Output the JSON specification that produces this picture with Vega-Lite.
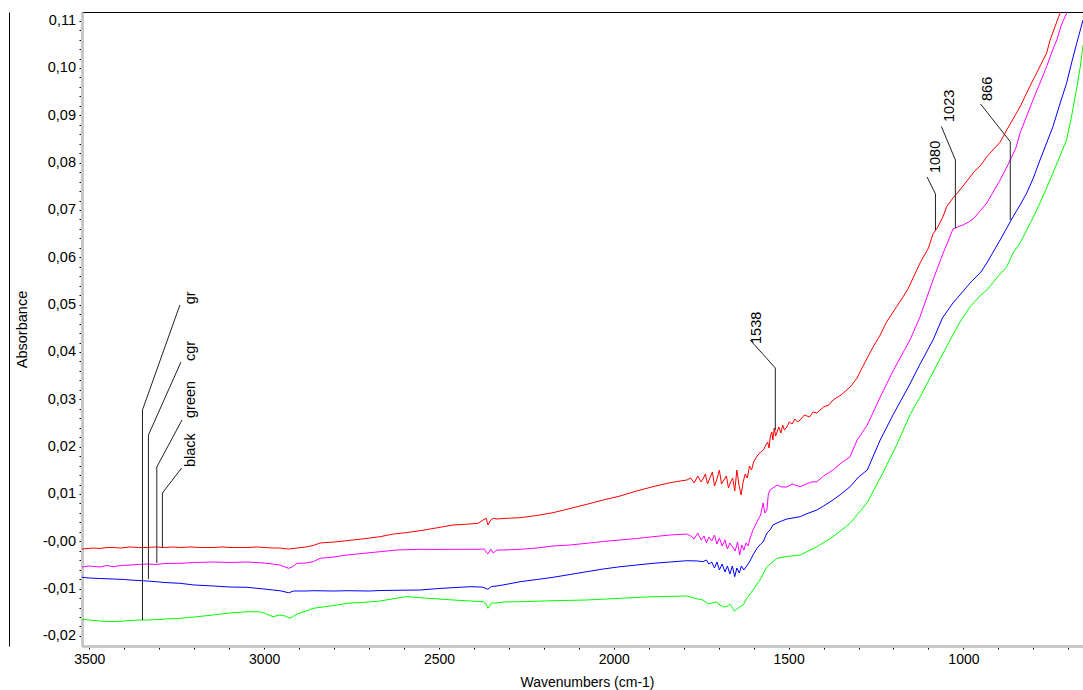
{
"$schema":"https://vega.github.io/schema/vega-lite/v6.json",
"width":1001,"height":634,
"autosize":{"type":"none"},
"padding":{"left":82,"top":12,"right":0,"bottom":44},
"background":"white",
"config":{"view":{"stroke":"black","strokeWidth":1},"axis":{"labelFont":"Liberation Sans","titleFont":"Liberation Sans","labelColor":"black","titleColor":"black","titleFontWeight":"normal","grid":false},"text":{"font":"Liberation Sans"}},
"datasets":{
"spec":[
{"s":"black","w":3521,"a":-0.00163},{"s":"black","w":3490,"a":-0.00142},{"s":"black","w":3470,"a":-0.00152},{"s":"black","w":3450,"a":-0.00131},{"s":"black","w":3432,"a":-0.00131},{"s":"black","w":3410,"a":-0.00142},{"s":"black","w":3384,"a":-0.0012},{"s":"black","w":3360,"a":-0.00131},{"s":"black","w":3335,"a":-0.00131},{"s":"black","w":3310,"a":-0.0012},{"s":"black","w":3284,"a":-0.00131},{"s":"black","w":3260,"a":-0.0012},{"s":"black","w":3241,"a":-0.00131},{"s":"black","w":3210,"a":-0.0012},{"s":"black","w":3184,"a":-0.00131},{"s":"black","w":3146,"a":-0.00131},{"s":"black","w":3120,"a":-0.0012},{"s":"black","w":3098,"a":-0.00131},{"s":"black","w":3049,"a":-0.00131},{"s":"black","w":3020,"a":-0.0012},{"s":"black","w":2998,"a":-0.00131},{"s":"black","w":2975,"a":-0.00142},{"s":"black","w":2955,"a":-0.00142},{"s":"black","w":2930,"a":-0.00163},{"s":"black","w":2906,"a":-0.00142},{"s":"black","w":2880,"a":-0.0012},{"s":"black","w":2860,"a":-0.00089},{"s":"black","w":2840,"a":-0.00036},{"s":"black","w":2800,"a":-0.00015},{"s":"black","w":2763,"a":0.00013},{"s":"black","w":2720,"a":0.00049},{"s":"black","w":2669,"a":0.00097},{"s":"black","w":2630,"a":0.00154},{"s":"black","w":2591,"a":0.00186},{"s":"black","w":2554,"a":0.00224},{"s":"black","w":2500,"a":0.00292},{"s":"black","w":2460,"a":0.00344},{"s":"black","w":2411,"a":0.00366},{"s":"black","w":2388,"a":0.0038},{"s":"black","w":2374,"a":0.0045},{"s":"black","w":2365,"a":0.00486},{"s":"black","w":2360,"a":0.00344},{"s":"black","w":2352,"a":0.0045},{"s":"black","w":2345,"a":0.00486},{"s":"black","w":2334,"a":0.00471},{"s":"black","w":2317,"a":0.00482},{"s":"black","w":2268,"a":0.00499},{"s":"black","w":2220,"a":0.00545},{"s":"black","w":2174,"a":0.00604},{"s":"black","w":2125,"a":0.00693},{"s":"black","w":2077,"a":0.00782},{"s":"black","w":2030,"a":0.00873},{"s":"black","w":1982,"a":0.00957},{"s":"black","w":1935,"a":0.01063},{"s":"black","w":1888,"a":0.01154},{"s":"black","w":1839,"a":0.01238},{"s":"black","w":1810,"a":0.01274},{"s":"black","w":1791,"a":0.01295},{"s":"black","w":1780,"a":0.01337},{"s":"black","w":1770,"a":0.01232},{"s":"black","w":1760,"a":0.0138},{"s":"black","w":1750,"a":0.01253},{"s":"black","w":1745,"a":0.01316},{"s":"black","w":1738,"a":0.01422},{"s":"black","w":1732,"a":0.01211},{"s":"black","w":1725,"a":0.01337},{"s":"black","w":1718,"a":0.01464},{"s":"black","w":1712,"a":0.01168},{"s":"black","w":1705,"a":0.01316},{"s":"black","w":1698,"a":0.01506},{"s":"black","w":1692,"a":0.01211},{"s":"black","w":1685,"a":0.01295},{"s":"black","w":1678,"a":0.0138},{"s":"black","w":1672,"a":0.01126},{"s":"black","w":1666,"a":0.01253},{"s":"black","w":1660,"a":0.01337},{"s":"black","w":1654,"a":0.01063},{"s":"black","w":1648,"a":0.01506},{"s":"black","w":1642,"a":0.0119},{"s":"black","w":1636,"a":0.00978},{"s":"black","w":1630,"a":0.01253},{"s":"black","w":1624,"a":0.01422},{"s":"black","w":1618,"a":0.01337},{"s":"black","w":1612,"a":0.01591},{"s":"black","w":1606,"a":0.01506},{"s":"black","w":1600,"a":0.01676},{"s":"black","w":1590,"a":0.01802},{"s":"black","w":1580,"a":0.01887},{"s":"black","w":1572,"a":0.01929},{"s":"black","w":1565,"a":0.02035},{"s":"black","w":1560,"a":0.02098},{"s":"black","w":1556,"a":0.01971},{"s":"black","w":1552,"a":0.02225},{"s":"black","w":1548,"a":0.02309},{"s":"black","w":1545,"a":0.0214},{"s":"black","w":1541,"a":0.02394},{"s":"black","w":1537,"a":0.02225},{"s":"black","w":1533,"a":0.02309},{"s":"black","w":1528,"a":0.02415},{"s":"black","w":1522,"a":0.02288},{"s":"black","w":1517,"a":0.02457},{"s":"black","w":1512,"a":0.02352},{"s":"black","w":1505,"a":0.02415},{"s":"black","w":1498,"a":0.02521},{"s":"black","w":1490,"a":0.02478},{"s":"black","w":1482,"a":0.02584},{"s":"black","w":1475,"a":0.02521},{"s":"black","w":1467,"a":0.02563},{"s":"black","w":1455,"a":0.02669},{"s":"black","w":1440,"a":0.02626},{"s":"black","w":1430,"a":0.02732},{"s":"black","w":1419,"a":0.02711},{"s":"black","w":1400,"a":0.02838},{"s":"black","w":1385,"a":0.0288},{"s":"black","w":1373,"a":0.02985},{"s":"black","w":1350,"a":0.03091},{"s":"black","w":1324,"a":0.0326},{"s":"black","w":1304,"a":0.0345},{"s":"black","w":1290,"a":0.03662},{"s":"black","w":1275,"a":0.03873},{"s":"black","w":1260,"a":0.04084},{"s":"black","w":1238,"a":0.04359},{"s":"black","w":1220,"a":0.04633},{"s":"black","w":1191,"a":0.04957},{"s":"black","w":1160,"a":0.0531},{"s":"black","w":1124,"a":0.0588},{"s":"black","w":1100,"a":0.06197},{"s":"black","w":1087,"a":0.06493},{"s":"black","w":1075,"a":0.06619},{"s":"black","w":1060,"a":0.06831},{"s":"black","w":1048,"a":0.07069},{"s":"black","w":1030,"a":0.07253},{"s":"black","w":1010,"a":0.07422},{"s":"black","w":970,"a":0.07803},{"s":"black","w":950,"a":0.07951},{"s":"black","w":933,"a":0.08126},{"s":"black","w":895,"a":0.08436},{"s":"black","w":876,"a":0.0869},{"s":"black","w":838,"a":0.09182},{"s":"black","w":801,"a":0.09746},{"s":"black","w":791,"a":0.09888},{"s":"black","w":762,"a":0.10317},{"s":"black","w":752,"a":0.10592},{"s":"black","w":724,"a":0.11156},{"s":"black","w":705,"a":0.11648},{"s":"black","w":680,"a":0.12282},{"s":"black","w":658,"a":0.1281},
{"s":"green","w":3521,"a":-0.00543},{"s":"green","w":3500,"a":-0.00522},{"s":"green","w":3470,"a":-0.00543},{"s":"green","w":3450,"a":-0.00511},{"s":"green","w":3432,"a":-0.00537},{"s":"green","w":3410,"a":-0.00511},{"s":"green","w":3384,"a":-0.00501},{"s":"green","w":3360,"a":-0.0049},{"s":"green","w":3335,"a":-0.0048},{"s":"green","w":3310,"a":-0.0049},{"s":"green","w":3284,"a":-0.00469},{"s":"green","w":3241,"a":-0.00465},{"s":"green","w":3200,"a":-0.00448},{"s":"green","w":3146,"a":-0.00437},{"s":"green","w":3098,"a":-0.00448},{"s":"green","w":3049,"a":-0.00437},{"s":"green","w":3000,"a":-0.00459},{"s":"green","w":2975,"a":-0.0048},{"s":"green","w":2955,"a":-0.00501},{"s":"green","w":2930,"a":-0.00571},{"s":"green","w":2920,"a":-0.00543},{"s":"green","w":2906,"a":-0.00465},{"s":"green","w":2880,"a":-0.00459},{"s":"green","w":2860,"a":-0.00431},{"s":"green","w":2840,"a":-0.00359},{"s":"green","w":2800,"a":-0.00332},{"s":"green","w":2763,"a":-0.0029},{"s":"green","w":2720,"a":-0.00258},{"s":"green","w":2669,"a":-0.0022},{"s":"green","w":2620,"a":-0.00184},{"s":"green","w":2554,"a":-0.00169},{"s":"green","w":2500,"a":-0.00173},{"s":"green","w":2460,"a":-0.00169},{"s":"green","w":2388,"a":-0.00169},{"s":"green","w":2370,"a":-0.00163},{"s":"green","w":2365,"a":-0.00226},{"s":"green","w":2360,"a":-0.00268},{"s":"green","w":2352,"a":-0.00163},{"s":"green","w":2345,"a":-0.00247},{"s":"green","w":2334,"a":-0.00184},{"s":"green","w":2317,"a":-0.00184},{"s":"green","w":2268,"a":-0.00169},{"s":"green","w":2220,"a":-0.00142},{"s":"green","w":2174,"a":-0.00099},{"s":"green","w":2125,"a":-0.00078},{"s":"green","w":2077,"a":-0.00042},{"s":"green","w":2030,"a":-0.00004},{"s":"green","w":1982,"a":0.00028},{"s":"green","w":1935,"a":0.00059},{"s":"green","w":1888,"a":0.00097},{"s":"green","w":1839,"a":0.00133},{"s":"green","w":1791,"a":0.00154},{"s":"green","w":1780,"a":0.00112},{"s":"green","w":1770,"a":0.00049},{"s":"green","w":1760,"a":0.00175},{"s":"green","w":1750,"a":0.00028},{"s":"green","w":1742,"a":0.00112},{"s":"green","w":1735,"a":-0.00036},{"s":"green","w":1728,"a":0.00091},{"s":"green","w":1720,"a":0.00006},{"s":"green","w":1712,"a":0.00133},{"s":"green","w":1705,"a":-0.00057},{"s":"green","w":1698,"a":0.0007},{"s":"green","w":1690,"a":-0.00099},{"s":"green","w":1682,"a":0.00028},{"s":"green","w":1675,"a":-0.00163},{"s":"green","w":1668,"a":-0.00036},{"s":"green","w":1660,"a":-0.0012},{"s":"green","w":1653,"a":-0.00205},{"s":"green","w":1646,"a":-0.00015},{"s":"green","w":1640,"a":-0.0029},{"s":"green","w":1634,"a":-0.00078},{"s":"green","w":1628,"a":-0.00184},{"s":"green","w":1622,"a":-0.00036},{"s":"green","w":1616,"a":-0.00099},{"s":"green","w":1610,"a":0.0007},{"s":"green","w":1602,"a":0.00239},{"s":"green","w":1595,"a":0.00344},{"s":"green","w":1588,"a":0.0045},{"s":"green","w":1580,"a":0.00556},{"s":"green","w":1573,"a":0.00809},{"s":"green","w":1568,"a":0.00598},{"s":"green","w":1562,"a":0.00661},{"s":"green","w":1558,"a":0.00999},{"s":"green","w":1553,"a":0.01084},{"s":"green","w":1545,"a":0.01126},{"s":"green","w":1533,"a":0.0119},{"s":"green","w":1520,"a":0.01147},{"s":"green","w":1505,"a":0.01147},{"s":"green","w":1490,"a":0.01211},{"s":"green","w":1467,"a":0.01154},{"s":"green","w":1450,"a":0.01211},{"s":"green","w":1435,"a":0.01253},{"s":"green","w":1419,"a":0.01259},{"s":"green","w":1400,"a":0.0138},{"s":"green","w":1373,"a":0.01506},{"s":"green","w":1350,"a":0.01654},{"s":"green","w":1324,"a":0.01787},{"s":"green","w":1304,"a":0.0214},{"s":"green","w":1275,"a":0.02457},{"s":"green","w":1238,"a":0.03049},{"s":"green","w":1200,"a":0.03619},{"s":"green","w":1153,"a":0.04253},{"s":"green","w":1124,"a":0.04745},{"s":"green","w":1087,"a":0.05521},{"s":"green","w":1058,"a":0.06091},{"s":"green","w":1040,"a":0.06408},{"s":"green","w":1030,"a":0.06598},{"s":"green","w":1010,"a":0.06662},{"s":"green","w":1001,"a":0.06683},{"s":"green","w":985,"a":0.06746},{"s":"green","w":972,"a":0.0681},{"s":"green","w":955,"a":0.06957},{"s":"green","w":933,"a":0.07148},{"s":"green","w":915,"a":0.0738},{"s":"green","w":895,"a":0.07634},{"s":"green","w":876,"a":0.07908},{"s":"green","w":866,"a":0.08056},{"s":"green","w":850,"a":0.0831},{"s":"green","w":838,"a":0.08627},{"s":"green","w":820,"a":0.08965},{"s":"green","w":801,"a":0.09324},{"s":"green","w":780,"a":0.09704},{"s":"green","w":762,"a":0.10027},{"s":"green","w":745,"a":0.1038},{"s":"green","w":733,"a":0.10592},{"s":"green","w":720,"a":0.10908},{"s":"green","w":705,"a":0.11156},{"s":"green","w":690,"a":0.11542},{"s":"green","w":675,"a":0.11965},{"s":"green","w":658,"a":0.12387},
{"s":"cgr","w":3521,"a":-0.00761},{"s":"cgr","w":3500,"a":-0.00775},{"s":"cgr","w":3470,"a":-0.00786},{"s":"cgr","w":3432,"a":-0.00797},{"s":"cgr","w":3400,"a":-0.00807},{"s":"cgr","w":3384,"a":-0.00818},{"s":"cgr","w":3335,"a":-0.00839},{"s":"cgr","w":3300,"a":-0.0086},{"s":"cgr","w":3284,"a":-0.00871},{"s":"cgr","w":3241,"a":-0.00887},{"s":"cgr","w":3200,"a":-0.00923},{"s":"cgr","w":3146,"a":-0.00944},{"s":"cgr","w":3098,"a":-0.00966},{"s":"cgr","w":3049,"a":-0.00972},{"s":"cgr","w":3000,"a":-0.01008},{"s":"cgr","w":2975,"a":-0.01029},{"s":"cgr","w":2955,"a":-0.01044},{"s":"cgr","w":2930,"a":-0.01086},{"s":"cgr","w":2915,"a":-0.0105},{"s":"cgr","w":2880,"a":-0.0105},{"s":"cgr","w":2860,"a":-0.01044},{"s":"cgr","w":2800,"a":-0.0105},{"s":"cgr","w":2763,"a":-0.01044},{"s":"cgr","w":2700,"a":-0.0105},{"s":"cgr","w":2669,"a":-0.0104},{"s":"cgr","w":2600,"a":-0.01033},{"s":"cgr","w":2554,"a":-0.01029},{"s":"cgr","w":2500,"a":-0.00997},{"s":"cgr","w":2411,"a":-0.00959},{"s":"cgr","w":2380,"a":-0.00966},{"s":"cgr","w":2374,"a":-0.00972},{"s":"cgr","w":2360,"a":-0.01014},{"s":"cgr","w":2350,"a":-0.00955},{"s":"cgr","w":2334,"a":-0.00944},{"s":"cgr","w":2317,"a":-0.00923},{"s":"cgr","w":2268,"a":-0.00854},{"s":"cgr","w":2220,"a":-0.00807},{"s":"cgr","w":2174,"a":-0.00761},{"s":"cgr","w":2125,"a":-0.00701},{"s":"cgr","w":2077,"a":-0.00642},{"s":"cgr","w":2030,"a":-0.00585},{"s":"cgr","w":1982,"a":-0.00537},{"s":"cgr","w":1935,"a":-0.00501},{"s":"cgr","w":1888,"a":-0.00465},{"s":"cgr","w":1839,"a":-0.00437},{"s":"cgr","w":1791,"a":-0.0041},{"s":"cgr","w":1760,"a":-0.00416},{"s":"cgr","w":1745,"a":-0.00431},{"s":"cgr","w":1735,"a":-0.00395},{"s":"cgr","w":1728,"a":-0.0048},{"s":"cgr","w":1720,"a":-0.00437},{"s":"cgr","w":1712,"a":-0.00564},{"s":"cgr","w":1705,"a":-0.00437},{"s":"cgr","w":1698,"a":-0.00606},{"s":"cgr","w":1690,"a":-0.0048},{"s":"cgr","w":1682,"a":-0.00649},{"s":"cgr","w":1675,"a":-0.00522},{"s":"cgr","w":1668,"a":-0.00691},{"s":"cgr","w":1661,"a":-0.00522},{"s":"cgr","w":1654,"a":-0.00748},{"s":"cgr","w":1648,"a":-0.00564},{"s":"cgr","w":1641,"a":-0.0067},{"s":"cgr","w":1635,"a":-0.00522},{"s":"cgr","w":1628,"a":-0.00606},{"s":"cgr","w":1620,"a":-0.00522},{"s":"cgr","w":1612,"a":-0.00437},{"s":"cgr","w":1602,"a":-0.0029},{"s":"cgr","w":1590,"a":-0.00142},{"s":"cgr","w":1580,"a":-0.00057},{"s":"cgr","w":1573,"a":-0.00015},{"s":"cgr","w":1562,"a":0.00175},{"s":"cgr","w":1553,"a":0.00239},{"s":"cgr","w":1545,"a":0.00344},{"s":"cgr","w":1533,"a":0.00387},{"s":"cgr","w":1520,"a":0.00429},{"s":"cgr","w":1505,"a":0.00471},{"s":"cgr","w":1467,"a":0.0052},{"s":"cgr","w":1450,"a":0.00577},{"s":"cgr","w":1419,"a":0.00661},{"s":"cgr","w":1400,"a":0.00746},{"s":"cgr","w":1373,"a":0.00873},{"s":"cgr","w":1350,"a":0.00999},{"s":"cgr","w":1324,"a":0.01154},{"s":"cgr","w":1300,"a":0.01359},{"s":"cgr","w":1275,"a":0.01506},{"s":"cgr","w":1238,"a":0.0214},{"s":"cgr","w":1200,"a":0.0269},{"s":"cgr","w":1153,"a":0.03323},{"s":"cgr","w":1124,"a":0.03746},{"s":"cgr","w":1087,"a":0.04253},{"s":"cgr","w":1060,"a":0.04718},{"s":"cgr","w":1030,"a":0.05035},{"s":"cgr","w":1010,"a":0.05204},{"s":"cgr","w":981,"a":0.05457},{"s":"cgr","w":950,"a":0.0569},{"s":"cgr","w":933,"a":0.0588},{"s":"cgr","w":915,"a":0.06112},{"s":"cgr","w":895,"a":0.06366},{"s":"cgr","w":876,"a":0.06619},{"s":"cgr","w":858,"a":0.06858},{"s":"cgr","w":838,"a":0.07105},{"s":"cgr","w":819,"a":0.07359},{"s":"cgr","w":800,"a":0.07676},{"s":"cgr","w":781,"a":0.08056},{"s":"cgr","w":762,"a":0.08415},{"s":"cgr","w":744,"a":0.0876},{"s":"cgr","w":725,"a":0.09218},{"s":"cgr","w":705,"a":0.09677},{"s":"cgr","w":690,"a":0.10127},{"s":"cgr","w":676,"a":0.10522},{"s":"cgr","w":658,"a":0.11014},
{"s":"gr","w":3521,"a":-0.01648},{"s":"gr","w":3500,"a":-0.01663},{"s":"gr","w":3470,"a":-0.01684},{"s":"gr","w":3432,"a":-0.01699},{"s":"gr","w":3400,"a":-0.01684},{"s":"gr","w":3384,"a":-0.01673},{"s":"gr","w":3350,"a":-0.01663},{"s":"gr","w":3335,"a":-0.01663},{"s":"gr","w":3300,"a":-0.01652},{"s":"gr","w":3284,"a":-0.01642},{"s":"gr","w":3241,"a":-0.01627},{"s":"gr","w":3200,"a":-0.01599},{"s":"gr","w":3146,"a":-0.01557},{"s":"gr","w":3098,"a":-0.01515},{"s":"gr","w":3049,"a":-0.01487},{"s":"gr","w":3010,"a":-0.01494},{"s":"gr","w":2998,"a":-0.01521},{"s":"gr","w":2975,"a":-0.01593},{"s":"gr","w":2955,"a":-0.01557},{"s":"gr","w":2940,"a":-0.01578},{"s":"gr","w":2926,"a":-0.01627},{"s":"gr","w":2906,"a":-0.01536},{"s":"gr","w":2880,"a":-0.01473},{"s":"gr","w":2860,"a":-0.01416},{"s":"gr","w":2800,"a":-0.01356},{"s":"gr","w":2763,"a":-0.0131},{"s":"gr","w":2700,"a":-0.01283},{"s":"gr","w":2669,"a":-0.01261},{"s":"gr","w":2600,"a":-0.01177},{"s":"gr","w":2591,"a":-0.01171},{"s":"gr","w":2554,"a":-0.01192},{"s":"gr","w":2500,"a":-0.01219},{"s":"gr","w":2460,"a":-0.0124},{"s":"gr","w":2411,"a":-0.01261},{"s":"gr","w":2374,"a":-0.01276},{"s":"gr","w":2365,"a":-0.01325},{"s":"gr","w":2360,"a":-0.01416},{"s":"gr","w":2350,"a":-0.01304},{"s":"gr","w":2334,"a":-0.01304},{"s":"gr","w":2317,"a":-0.01283},{"s":"gr","w":2268,"a":-0.01276},{"s":"gr","w":2174,"a":-0.01255},{"s":"gr","w":2077,"a":-0.0124},{"s":"gr","w":1982,"a":-0.01204},{"s":"gr","w":1888,"a":-0.01171},{"s":"gr","w":1791,"a":-0.01156},{"s":"gr","w":1760,"a":-0.01219},{"s":"gr","w":1745,"a":-0.0124},{"s":"gr","w":1730,"a":-0.01325},{"s":"gr","w":1720,"a":-0.01304},{"s":"gr","w":1706,"a":-0.01283},{"s":"gr","w":1696,"a":-0.01346},{"s":"gr","w":1686,"a":-0.01388},{"s":"gr","w":1676,"a":-0.01378},{"s":"gr","w":1668,"a":-0.01325},{"s":"gr","w":1660,"a":-0.01416},{"s":"gr","w":1655,"a":-0.01473},{"s":"gr","w":1648,"a":-0.0143},{"s":"gr","w":1640,"a":-0.01388},{"s":"gr","w":1630,"a":-0.01346},{"s":"gr","w":1619,"a":-0.01198},{"s":"gr","w":1602,"a":-0.01029},{"s":"gr","w":1582,"a":-0.00818},{"s":"gr","w":1562,"a":-0.00537},{"s":"gr","w":1533,"a":-0.00359},{"s":"gr","w":1505,"a":-0.00321},{"s":"gr","w":1467,"a":-0.0029},{"s":"gr","w":1419,"a":-0.00114},{"s":"gr","w":1373,"a":0.00097},{"s":"gr","w":1324,"a":0.0038},{"s":"gr","w":1275,"a":0.0082},{"s":"gr","w":1230,"a":0.0145},{"s":"gr","w":1190,"a":0.0205},{"s":"gr","w":1153,"a":0.02669},{"s":"gr","w":1124,"a":0.03049},{"s":"gr","w":1100,"a":0.03387},{"s":"gr","w":1070,"a":0.03809},{"s":"gr","w":1038,"a":0.04253},{"s":"gr","w":1010,"a":0.04633},{"s":"gr","w":981,"a":0.04957},{"s":"gr","w":950,"a":0.05204},{"s":"gr","w":933,"a":0.0531},{"s":"gr","w":900,"a":0.05605},{"s":"gr","w":876,"a":0.05802},{"s":"gr","w":858,"a":0.06091},{"s":"gr","w":838,"a":0.06303},{"s":"gr","w":819,"a":0.06577},{"s":"gr","w":800,"a":0.06852},{"s":"gr","w":781,"a":0.07148},{"s":"gr","w":762,"a":0.07465},{"s":"gr","w":744,"a":0.07781},{"s":"gr","w":725,"a":0.0812},{"s":"gr","w":705,"a":0.08479},{"s":"gr","w":690,"a":0.09007},{"s":"gr","w":676,"a":0.09577},{"s":"gr","w":665,"a":0.10063},{"s":"gr","w":658,"a":0.10486}
],
"leaders":[
{"id":"gr","o":1,"w":3241,"a":0.04993},{"id":"gr","o":2,"w":3348,"a":0.02776},{"id":"gr","o":3,"w":3348,"a":-0.01663},
{"id":"cgr","o":1,"w":3238,"a":0.03788},{"id":"cgr","o":2,"w":3331,"a":0.02245},{"id":"cgr","o":3,"w":3331,"a":-0.00797},
{"id":"green","o":1,"w":3235,"a":0.02563},{"id":"green","o":2,"w":3307,"a":0.0157},{"id":"green","o":3,"w":3307,"a":-0.00458},
{"id":"black","o":1,"w":3236,"a":0.01549},{"id":"black","o":2,"w":3291,"a":0.0102},{"id":"black","o":3,"w":3291,"a":-0.00142},
{"id":"1538","o":1,"w":1610,"a":0.04253},{"id":"1538","o":2,"w":1538,"a":0.03662},{"id":"1538","o":3,"w":1538,"a":0.02352},
{"id":"1080","o":1,"w":1104,"a":0.07697},{"id":"1080","o":2,"w":1080,"a":0.07338},{"id":"1080","o":3,"w":1080,"a":0.06577},
{"id":"1023","o":1,"w":1063,"a":0.08764},{"id":"1023","o":2,"w":1023,"a":0.08056},{"id":"1023","o":3,"w":1023,"a":0.06619},
{"id":"866","o":1,"w":951,"a":0.09239},{"id":"866","o":2,"w":866,"a":0.08443},{"id":"866","o":3,"w":866,"a":0.06789}
],
"labels":[
{"t":"gr","w":3209,"a":0.05007},{"t":"cgr","w":3209,"a":0.03809},{"t":"green","w":3209,"a":0.02605},{"t":"black","w":3209,"a":0.0157},
{"t":"1538","w":1590,"a":0.04169},{"t":"1080","w":1078,"a":0.07781},{"t":"1023","w":1038,"a":0.08859},{"t":"866","w":929,"a":0.09303}
]
},
"resolve":{"axis":{"x":"independent","y":"independent"}},
"layer":[
{
"data":{"name":"spec"},
"mark":{"type":"line","clip":true,"strokeWidth":1},
"encoding":{
"x":{"field":"w","type":"quantitative","scale":{"domain":[658,3521],"reverse":true,"nice":false,"zero":false},
"axis":{"orient":"bottom","values":[700,800,900,1000,1100,1200,1300,1400,1500,1600,1700,1800,1900,2000,2100,2200,2300,2400,2500,2600,2700,2800,2900,3000,3100,3200,3300,3400,3500],
"labelExpr":"datum.value % 500 == 0 ? '' + datum.value : ''","labelFontSize":14,"labelPadding":3,"tickSize":3,"tickColor":"black","domainColor":"#c8c8c8","domainWidth":3,"labelOverlap":false,"labelFlush":false,
"title":"Wavenumbers (cm-1)","titleFontSize":14,"titleX":505,"titleY":36,"titleAlign":"center","titleBaseline":"middle"}},
"y":{"field":"a","type":"quantitative","scale":{"domain":[-0.02212,0.11183],"nice":false,"zero":false},
"axis":{"orient":"left","values":[-0.02,-0.018,-0.016,-0.014,-0.012,-0.01,-0.008,-0.006,-0.004,-0.002,0,0.002,0.004,0.006,0.008,0.01,0.012,0.014,0.016,0.018,0.02,0.022,0.024,0.026,0.028,0.03,0.032,0.034,0.036,0.038,0.04,0.042,0.044,0.046,0.048,0.05,0.052,0.054,0.056,0.058,0.06,0.062,0.064,0.066,0.068,0.07,0.072,0.074,0.076,0.078,0.08,0.082,0.084,0.086,0.088,0.09,0.092,0.094,0.096,0.098,0.1,0.102,0.104,0.106,0.108,0.11],
"labelExpr":"abs(datum.value*100-round(datum.value*100))<0.01 ? (abs(datum.value)<1e-9 ? '-0,00' : replace(replace(format(datum.value,'.2f'),'.',','),'−','-')) : ''",
"labelFontSize":14.5,"labelPadding":3.5,"tickSize":3,"tickColor":"black","domainColor":"#c8c8c8","domainWidth":3,"labelOverlap":false,"labelFlush":false,
"title":"Absorbance","titleFontSize":14.5,"titleX":-60,"titleY":317,"titleAngle":270,"titleAlign":"center","titleBaseline":"middle"}},
"color":{"field":"s","type":"nominal","scale":{"domain":["black","green","cgr","gr"],"range":["#ff0000","#ff00ff","#0000ff","#00ff00"]},"legend":null}
}
},
{
"data":{"name":"leaders"},
"mark":{"type":"line","color":"#222222","strokeWidth":1},
"encoding":{
"x":{"field":"w","type":"quantitative","scale":{"domain":[658,3521],"reverse":true,"nice":false,"zero":false},"axis":null},
"y":{"field":"a","type":"quantitative","scale":{"domain":[-0.02212,0.11183],"nice":false,"zero":false},
"axis":{"orient":"left","offset":73,"domainColor":"black","domainWidth":1,"ticks":false,"labels":false,"title":null,"grid":false}},
"detail":{"field":"id","type":"nominal"},
"order":{"field":"o","type":"quantitative"}
}
},
{
"data":{"name":"labels"},
"mark":{"type":"text","angle":270,"align":"left","baseline":"middle","fontSize":14.5,"font":"Liberation Sans","color":"black"},
"encoding":{
"x":{"field":"w","type":"quantitative","scale":{"domain":[658,3521],"reverse":true,"nice":false,"zero":false},"axis":null},
"y":{"field":"a","type":"quantitative","scale":{"domain":[-0.02212,0.11183],"nice":false,"zero":false},"axis":null},
"text":{"field":"t","type":"nominal"}
}
}
]
}
